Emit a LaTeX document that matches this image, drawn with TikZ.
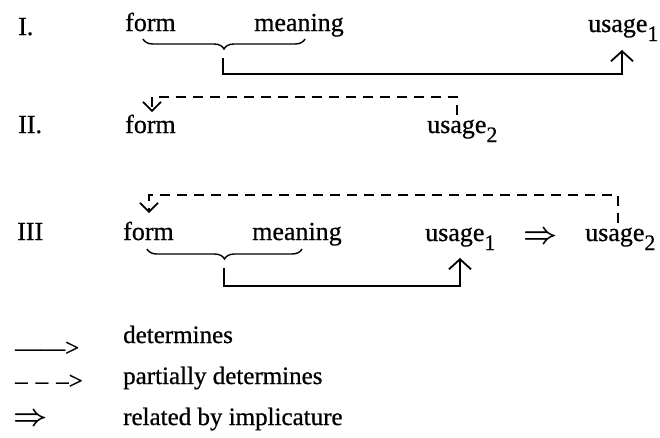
\documentclass[tikz,border=0pt]{standalone}
\usepackage{graphicx}
\usepackage{fontspec}
\setmainfont{Liberation Serif}[FakeBold=0.7]
\usetikzlibrary{arrows.meta,decorations.pathreplacing}
\newcommand\usub[1]{\raisebox{-9pt}{\fontsize{22}{22}\selectfont #1}}
\newcommand\bigimpl{\scalebox{1.2}{$\Rightarrow$}}
\tikzset{
  lbl/.style={anchor=base west, inner sep=0pt, font=\fontsize{26}{30}\selectfont},
  leg/.style={anchor=base west, inner sep=0pt, font=\fontsize{25}{30}\selectfont},
  impl/.style={anchor=base west, inner sep=0pt, font=\fontsize{24}{30}\selectfont\boldmath},
  bracestyle/.style={decorate, decoration={brace, amplitude=10pt}, line width=1.4pt},
  solidconn/.style={line width=1.8pt, -{Straight Barb[length=10pt,width=22pt,line width=1.8pt]}},
  dashconn/.style={line width=1.7pt, dash pattern=on 10pt off 7pt, -{Straight Barb[length=9pt,width=18pt,line width=1.7pt]}},
}
\begin{document}
\begin{tikzpicture}[x=1pt,y=-1pt]
\path[use as bounding box] (0,0) rectangle (660,437);
% Row I
\node[lbl] (n1) at (18,35) {I.};
\node[lbl] (f1) at (125,31) {form};
\node[lbl] (m1) at (254,31) {meaning};
\node[lbl] (u1) at (588,32) {usage\usub{1}};
% Row II
\node[lbl] (n2) at (18,133) {II.};
\node[lbl] (f2) at (125,133) {form};
\node[lbl] (u2) at (427,133) {usage\usub{2}};
% Row III
\node[lbl] (n3) at (17,240) {III};
\node[lbl] (f3) at (123,240) {form};
\node[lbl] (m3) at (252,240) {meaning};
\node[lbl] (u31) at (425,241) {usage\usub{1}};
\node[impl] (imp) at (523,243) {\bigimpl};
\node[lbl] (u32) at (585,241) {usage\usub{2}};
% braces
\coordinate (b1r) at (305,39);
\coordinate (b1l) at (143,39);
\draw[bracestyle] (b1r) -- (b1l);
\coordinate (b3r) at (302,249);
\coordinate (b3l) at (147,249);
\draw[bracestyle] (b3r) -- (b3l);
% connectors
\coordinate (t1) at (223,58);
\coordinate (a1) at (622,50);
\draw[solidconn] (t1) -- ++(0,16) -| (a1);
\coordinate (d2s) at (457,115);
\coordinate (d2e) at (152,112);
\draw[dashconn] (d2s) -- ++(0,-18) -| (d2e);
\coordinate (t3) at (224,268);
\coordinate (a3) at (460,258);
\draw[solidconn] (t3) -- ++(0,18) -| (a3);
\coordinate (d3s) at (618,223);
\coordinate (d3e) at (149,213);
\draw[dashconn] (d3s) -- ++(0,-28) -| (d3e);
% legend
\node[leg] (s1) at (15,356) {——>};
\node[leg] (s2) at (15,389) {–\hspace{8pt}–\hspace{8pt}–>};
\node[impl] (s3) at (13,425) {\bigimpl};
\node[leg] (l1) at (123,343) {determines};
\node[leg] (l2) at (123,384) {partially determines};
\node[leg] (l3) at (123,425) {related by implicature};
\end{tikzpicture}
\end{document}
